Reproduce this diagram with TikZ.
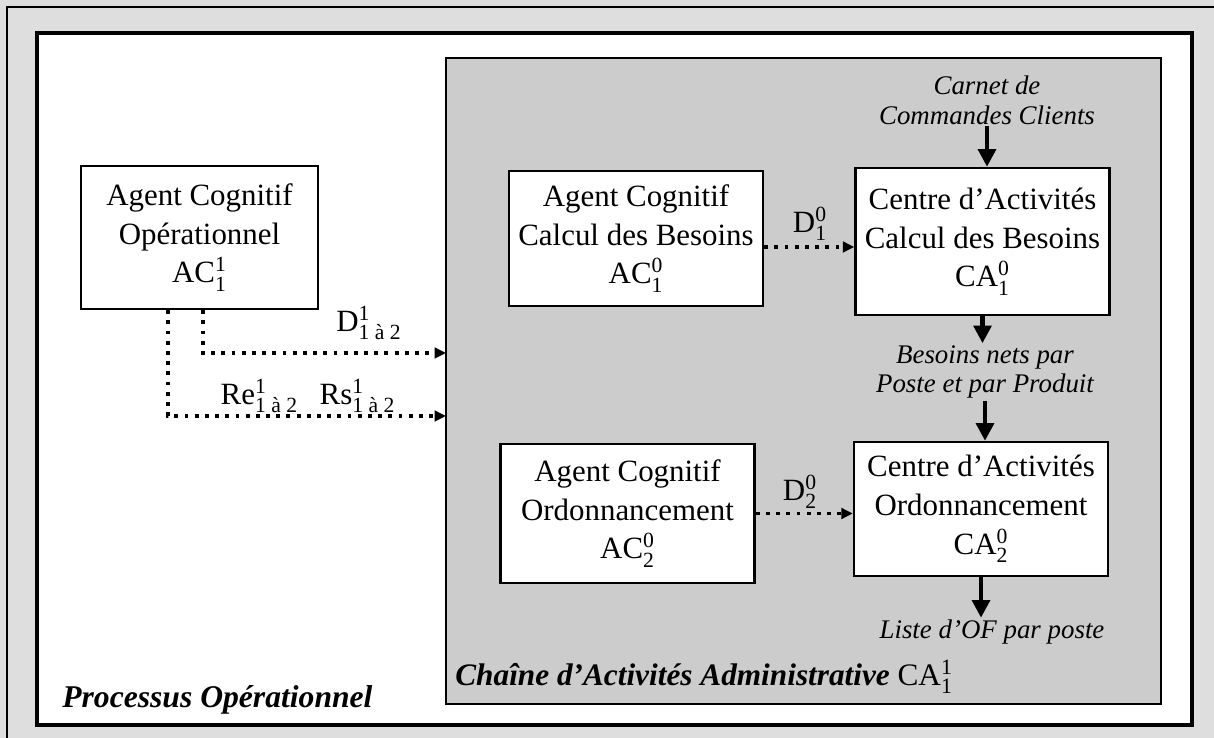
\documentclass[tikz,border=0pt]{standalone}
\usepackage{amsmath}
\usepackage{fontspec}
\setmainfont{Liberation Serif}
\usepackage{xcolor}
\usepackage{tikz}
\usetikzlibrary{arrows.meta, calc, positioning}
\definecolor{bandgray}{gray}{0.87}
\definecolor{panelgray}{gray}{0.80}
\newcommand{\idx}[3]{#1$^{\text{#2}}_{\text{#3}}$}
\tikzstyle{box} = [draw=black, fill=white, line width=1.4pt, minimum width=5.08cm, minimum height=2.75cm, align=center, inner sep=2pt]
\tikzstyle{note} = [align=center, inner sep=1pt, font=\fontsize{15.3}{17}\selectfont\itshape]
\tikzstyle{flow} = [line width=2.4pt, -{Triangle[length=10pt,width=10pt]}]
\tikzstyle{dotflow} = [line width=1.9pt, dash pattern=on 2.2pt off 3.6pt, -{Triangle[length=6.5pt,width=6pt]}]

\begin{document}
\begin{tikzpicture}[>=Stealth, font=\fontsize{17.6}{22}\selectfont]
\useasboundingbox (0,0) rectangle (24.28,14.76);
\fill[bandgray] (0,0) rectangle (24.28,14.76);
\draw[line width=0.8pt] (0.14,0) -- (0.14,14.62) -- (24.28,14.62);
\draw[line width=1.8pt, fill=white] (0.74,0.26) rectangle (23.84,14.1);

\node[
draw=black,
fill=panelgray,
line width=1.5pt,
minimum width=14.3cm,
minimum height=12.92cm,
inner sep=0pt
] (chaine) at (16.07,7.14) {};

\node[box, minimum width=4.74cm, minimum height=2.86cm] (opagent) at (3.99,10.01) {Agent Cognitif\\Opérationnel\\\idx{AC}{1}{1}};
\node[box, minimum height=2.7cm] (cbagent) at (12.72,9.99) {Agent Cognitif\\Calcul des Besoins\\\idx{AC}{0}{1}};
\node[box, minimum height=2.94cm] (cbcentre) at (19.65,9.93) {Centre d’Activités\\Calcul des Besoins\\\idx{CA}{0}{1}};
\node[box, minimum height=2.78cm] (ordagent) at (12.55,4.49) {Agent Cognitif\\Ordonnancement\\\idx{AC}{0}{2}};
\node[box, minimum height=2.68cm] (ordcentre) at (19.62,4.58) {Centre d’Activités\\Ordonnancement\\\idx{CA}{0}{2}};

\node[note] (carnet) at (19.74,12.76) {Carnet de\\Commandes Clients};
\node[note] (besoins) at (19.7,7.32) {Besoins nets par\\Poste et par Produit};
\node[note] (liste) at (19.84,2.12) {Liste d’OF par poste};

\draw[flow] (carnet.south) -- (carnet.south |- cbcentre.north);
\draw[flow] (cbcentre.south) -- (cbcentre.south |- besoins.north);
\draw[flow] (besoins.south) -- (besoins.south |- ordcentre.north);
\draw[flow] (ordcentre.south) -- (ordcentre.south |- liste.north);

\node (donelabel) at (16.2,10.28) {\idx{D}{0}{1}};
\draw[dotflow] ($(cbagent.east)+(0,-0.17)$) -- ($(cbagent.east -| cbcentre.west)+(0,-0.17)$);
\node (dtwolabel) at (16.0,4.92) {\idx{D}{0}{2}};
\draw[dotflow] (ordagent.east) -- (ordagent.east -| ordcentre.west);

\coordinate (dend) at (8.92,7.7);
\coordinate (rend) at (8.92,6.44);
\draw[dotflow] ([xshift=0.07cm]opagent.south) |- (dend);
\draw[dotflow] ([xshift=-0.63cm]opagent.south) |- (rend);
\node (dlabel) at (7.38,8.3) {\idx{D}{1}{1 à 2}};
\node (rlabel) at (6.16,6.84) {\idx{Re}{1}{1 à 2}\hspace{0.7em}\idx{Rs}{1}{1 à 2}};

\node[anchor=west, inner sep=0pt, font=\fontsize{17.8}{22}\selectfont] (chainelabel) at (9.1,1.22) {\textbf{\textit{Chaîne d’Activités Administrative}} \idx{CA}{1}{1}};
\node[anchor=west, inner sep=0pt, font=\fontsize{18}{22}\selectfont\bfseries\itshape] (processus) at (1.24,0.76) {Processus Opérationnel};
\end{tikzpicture}
\end{document}
